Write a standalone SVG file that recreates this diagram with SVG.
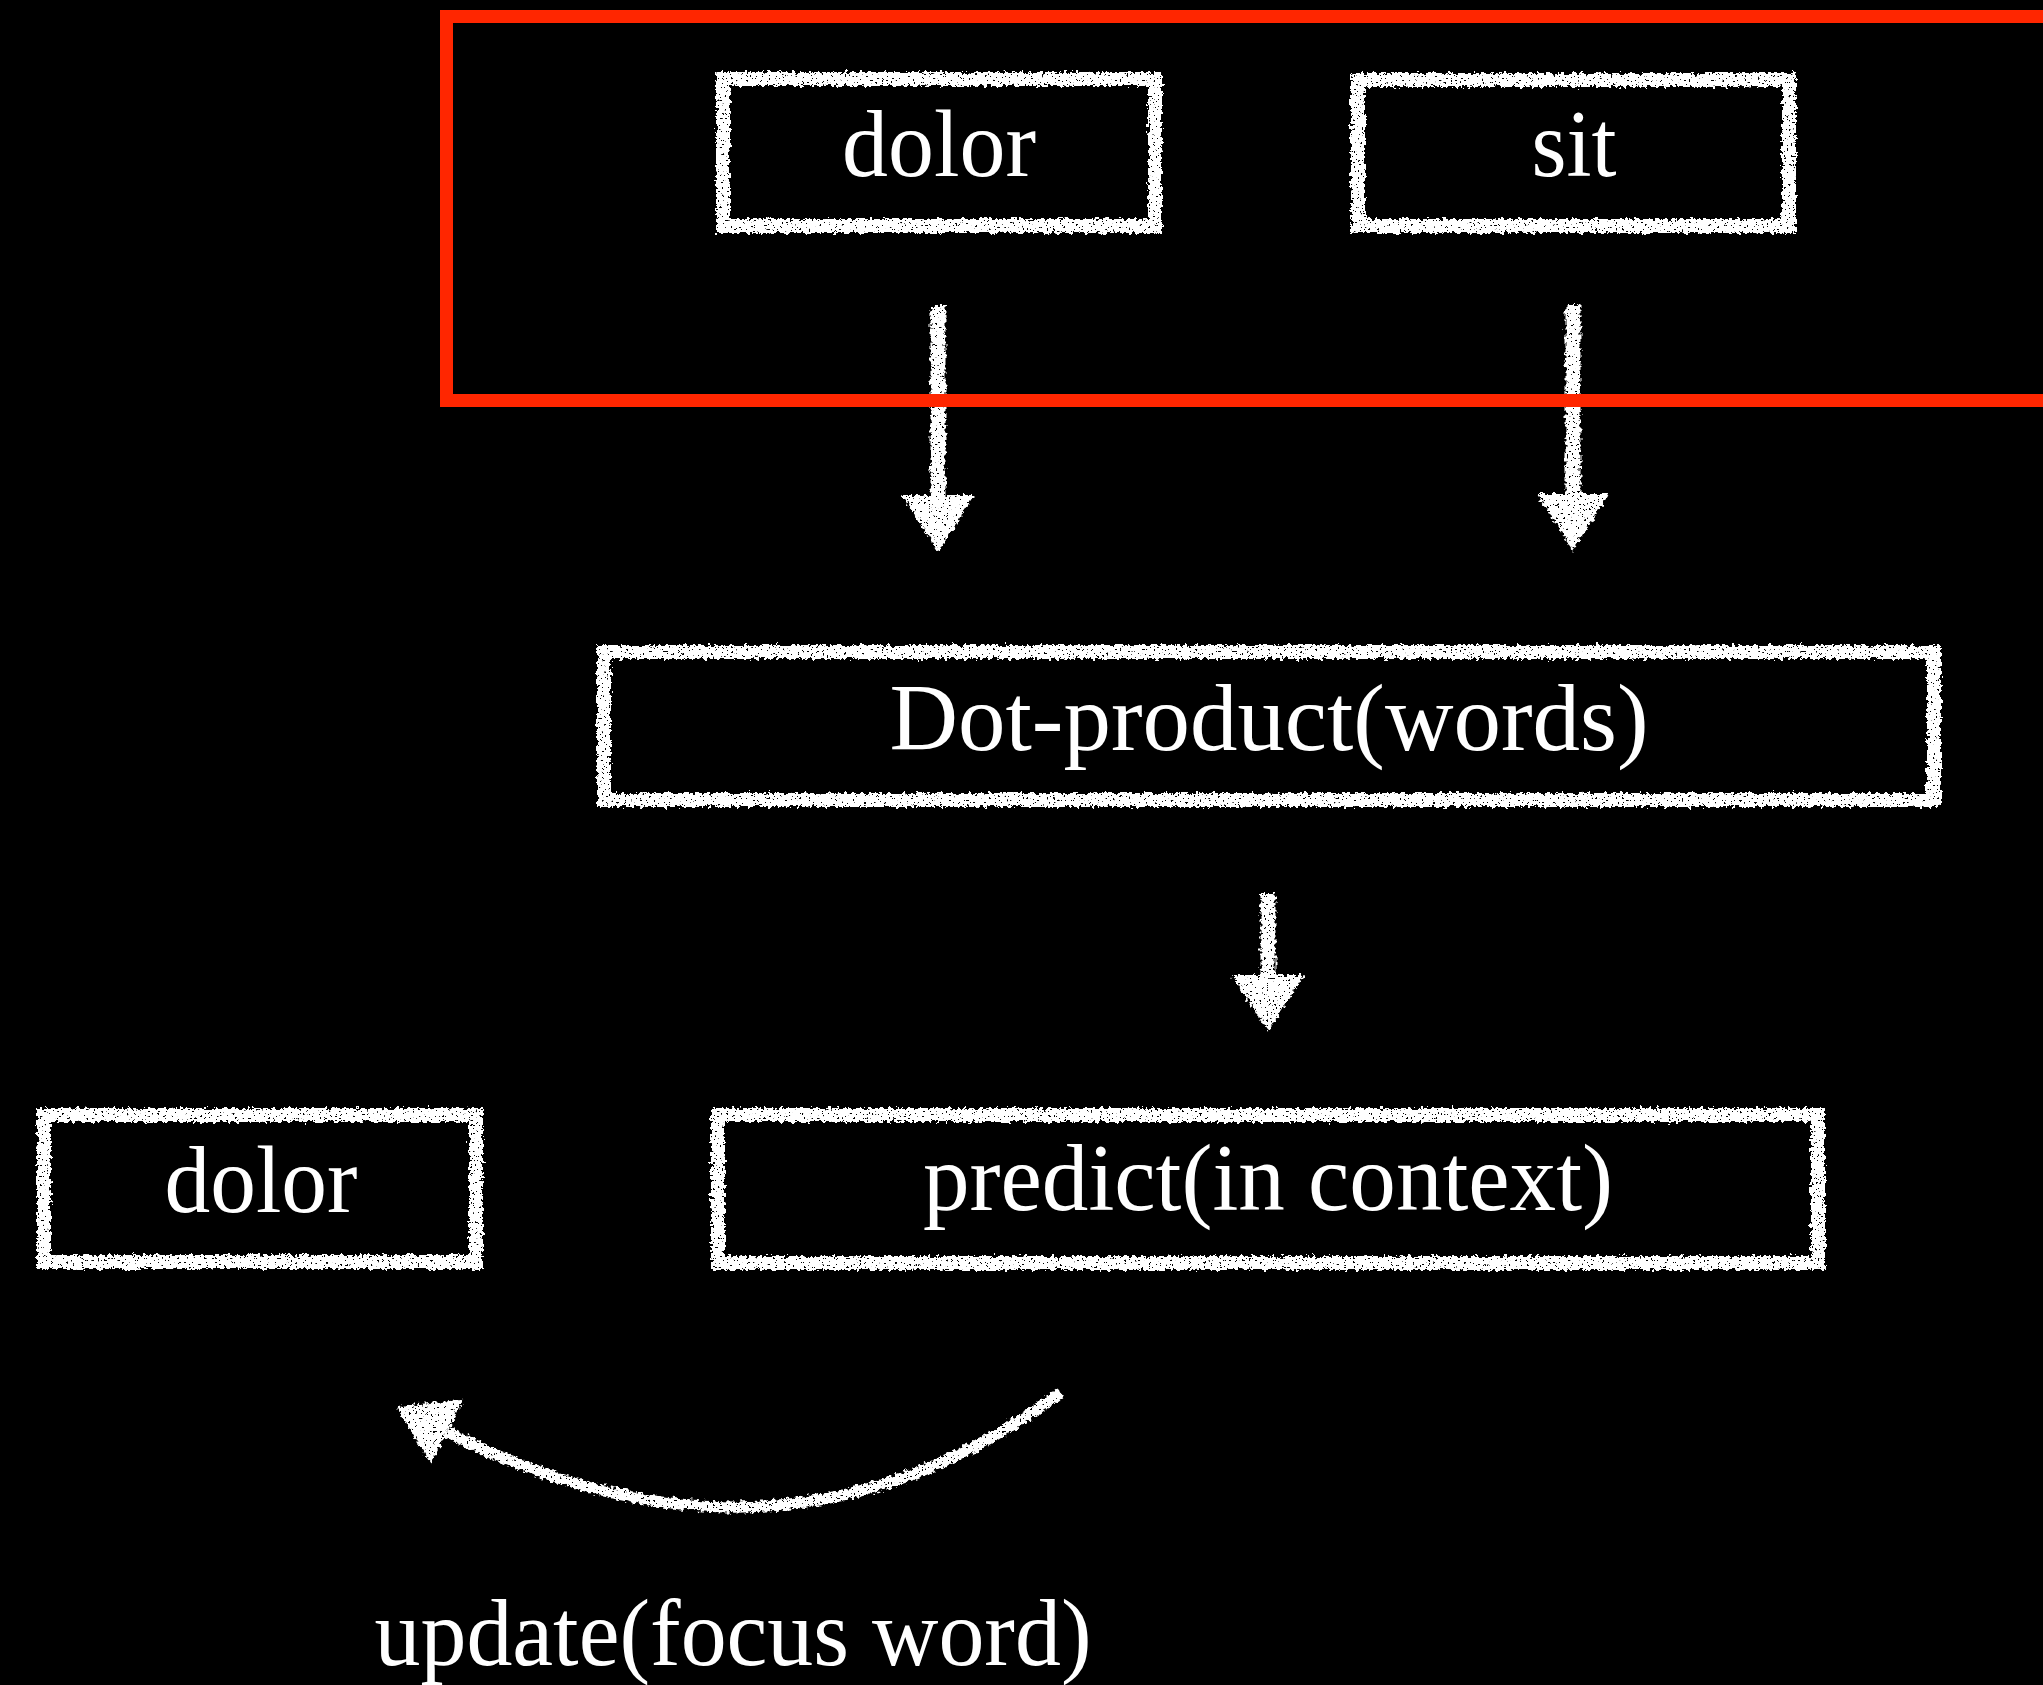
<svg xmlns="http://www.w3.org/2000/svg" width="2043" height="1685" viewBox="0 0 2043 1685">
  <defs>
    <style>
      .box { fill: none; stroke: #ffffff; stroke-width: 14; filter: url(#chalk); }
      .label { font-family: "Liberation Serif", "Times New Roman", serif; font-size: 96px; fill: #ffffff; text-anchor: middle; }
      .wire { fill: none; stroke: #ffffff; stroke-linecap: butt; marker-end: url(#head); filter: url(#chalk); }
      .frame { fill: none; stroke: #ff2600; stroke-width: 13; }
    </style>
    <!-- chalk: jagged edges from displacement, sparse grain holes from a hard-thresholded noise mask -->
    <filter id="chalk" filterUnits="userSpaceOnUse" x="0" y="0" width="2043" height="1685" color-interpolation-filters="sRGB">
      <feTurbulence type="fractalNoise" baseFrequency="0.25" numOctaves="2" seed="4" result="noise"/>
      <feDisplacementMap in="SourceGraphic" in2="noise" scale="8" xChannelSelector="R" yChannelSelector="G" result="rough"/>
      <feTurbulence type="fractalNoise" baseFrequency="0.45" numOctaves="2" seed="11" result="grain"/>
      <feColorMatrix in="grain" type="matrix" values="0 0 0 0 1  0 0 0 0 1  0 0 0 0 1  -36 0 0 0 25.5" result="mask"/>
      <feComposite in="rough" in2="mask" operator="in"/>
    </filter>
    <marker id="head" markerUnits="userSpaceOnUse" viewBox="-2 -40 62 80" markerWidth="62" markerHeight="80" refX="0" refY="0" orient="auto">
      <path d="M0,-36 L57,0 L0,36 Z" fill="#ffffff"/>
    </marker>
  </defs>

  <rect width="2043" height="1685" fill="#000000"/>

  <g id="connectors">
    <path class="wire" stroke-width="15" d="M938,306 L938,495"/>
    <path class="wire" stroke-width="15" d="M1573,305 L1573,494"/>
    <path class="wire" stroke-width="15" d="M1268,893 L1268,975"/>
    <path class="wire" stroke-width="11" d="M1061,1392 Q780,1600 447,1432"/>
  </g>

  <g id="node-dolor-top">
    <rect class="box" x="723" y="79" width="432" height="147"/>
    <text class="label" x="939" y="176" textLength="194" lengthAdjust="spacingAndGlyphs">dolor</text>
  </g>

  <g id="node-sit">
    <rect class="box" x="1358" y="80" width="431" height="146"/>
    <text class="label" x="1574" y="176" textLength="85" lengthAdjust="spacingAndGlyphs">sit</text>
  </g>

  <g id="node-dot-product">
    <rect class="box" x="604" y="652" width="1330" height="148"/>
    <text class="label" x="1269" y="750" textLength="759" lengthAdjust="spacingAndGlyphs">Dot-product(words)</text>
  </g>

  <g id="node-dolor-left">
    <rect class="box" x="44" y="1115" width="432" height="147"/>
    <text class="label" x="261" y="1212" textLength="193" lengthAdjust="spacingAndGlyphs">dolor</text>
  </g>

  <g id="node-predict">
    <rect class="box" x="718" y="1115" width="1100" height="148"/>
    <text class="label" x="1268" y="1210" textLength="690" lengthAdjust="spacingAndGlyphs">predict(in context)</text>
  </g>

  <g id="label-update">
    <text class="label" x="733" y="1665" textLength="717" lengthAdjust="spacingAndGlyphs">update(focus word)</text>
  </g>

  <g id="focus-frame">
    <rect class="frame" x="446.5" y="16.5" width="1620" height="384"/>
  </g>
</svg>
